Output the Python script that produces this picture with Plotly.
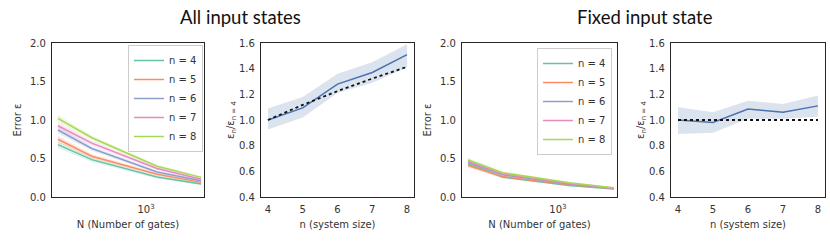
import plotly.graph_objects as go

# ---------------- data ----------------
N_gates = [166, 331, 1250, 3070]
n_labels = ["n = 4", "n = 5", "n = 6", "n = 7", "n = 8"]
colors = ["#66c2a5", "#fc8d62", "#8da0cb", "#e78ac3", "#a6d854"]

# All input states: error vs N for each n
err_all = [
    [0.68, 0.485, 0.26, 0.17],
    [0.75, 0.53, 0.295, 0.19],
    [0.87, 0.63, 0.325, 0.21],
    [0.925, 0.70, 0.37, 0.23],
    [1.02, 0.77, 0.40, 0.255],
]
err_all_sd = [
    [0.045, 0.03, 0.02, 0.015],
    [0.045, 0.03, 0.02, 0.015],
    [0.045, 0.03, 0.02, 0.015],
    [0.045, 0.03, 0.02, 0.015],
    [0.045, 0.03, 0.02, 0.015],
]

# Fixed input state: error vs N for each n
err_fix = [
    [0.43, 0.26, 0.15, 0.105],
    [0.41, 0.265, 0.16, 0.11],
    [0.45, 0.29, 0.17, 0.11],
    [0.46, 0.30, 0.175, 0.115],
    [0.48, 0.315, 0.185, 0.12],
]
err_fix_sd = [
    [0.03, 0.02, 0.012, 0.008],
    [0.03, 0.02, 0.012, 0.008],
    [0.03, 0.02, 0.012, 0.008],
    [0.03, 0.02, 0.012, 0.008],
    [0.03, 0.02, 0.012, 0.008],
]

n_sizes = [4, 5, 6, 7, 8]
ratio_all = [1.0, 1.094, 1.28, 1.37, 1.51]
ratio_all_lo = [0.925, 1.02, 1.21, 1.29, 1.41]
ratio_all_hi = [1.09, 1.18, 1.36, 1.45, 1.59]
ratio_fix = [1.0, 0.98, 1.085, 1.06, 1.11]
ratio_fix_lo = [0.89, 0.90, 1.01, 1.01, 1.025]
ratio_fix_hi = [1.10, 1.06, 1.15, 1.125, 1.19]
ref_all = [1.0, 1.118, 1.225, 1.323, 1.414]
ref_fix = [1.0, 1.0, 1.0, 1.0, 1.0]

titles = ["All input states", "Fixed input state"]

# ---------------- figure ----------------
W, H = 830, 247
fig = go.Figure()

def rgba(hexc, a):
    h = hexc.lstrip("#")
    r, g, b = int(h[0:2], 16), int(h[2:4], 16), int(h[4:6], 16)
    return f"rgba({r},{g},{b},{a})"

def add_err_panel(xa, ya, vals, sds, legend):
    for i, (v, s) in enumerate(zip(vals, sds)):
        up = [a + b for a, b in zip(v, s)]
        lo = [a - b for a, b in zip(v, s)]
        fig.add_trace(go.Scatter(
            x=N_gates + N_gates[::-1], y=up + lo[::-1], fill="toself", mode="lines",
            fillcolor=rgba(colors[i], 0.2), line=dict(width=0),
            hoverinfo="skip", showlegend=False, xaxis=xa, yaxis=ya))
    for i, v in enumerate(vals):
        fig.add_trace(go.Scatter(
            x=N_gates, y=v, mode="lines", name=n_labels[i],
            line=dict(color=colors[i], width=1.5),
            xaxis=xa, yaxis=ya, legend=legend))

def add_ratio_panel(xa, ya, vals, lo, hi, ref):
    fig.add_trace(go.Scatter(
        x=n_sizes + n_sizes[::-1], y=hi + lo[::-1], fill="toself", mode="lines",
        fillcolor="rgba(76,114,176,0.2)", line=dict(width=0),
        hoverinfo="skip", showlegend=False, xaxis=xa, yaxis=ya))
    fig.add_trace(go.Scatter(
        x=n_sizes, y=vals, mode="lines", line=dict(color="#4c72b0", width=1.5),
        showlegend=False, xaxis=xa, yaxis=ya))
    fig.add_trace(go.Scatter(
        x=n_sizes, y=ref, mode="lines", line=dict(color="#111111", width=1.8, dash="dot"),
        showlegend=False, xaxis=xa, yaxis=ya))

add_err_panel("x", "y", err_all, err_all_sd, "legend")
add_ratio_panel("x2", "y2", ratio_all, ratio_all_lo, ratio_all_hi, ref_all)
add_err_panel("x3", "y3", err_fix, err_fix_sd, "legend2")
add_ratio_panel("x4", "y4", ratio_fix, ratio_fix_lo, ratio_fix_hi, ref_fix)

px = [(52, 204), (261, 414), (462, 617), (671, 825)]
ytop, ybot = 43, 197
ydom = [(H - ybot) / H, (H - ytop) / H]

tickfont = dict(family="DejaVu Sans", size=10, color="#333333")
titlefont = dict(family="DejaVu Sans", size=10, color="#333333")
common = dict(showline=True, linecolor="#262626", linewidth=1.2, mirror=True,
              showgrid=False, zeroline=False, tickfont=tickfont,
              ticks="outside", ticklen=3, tickcolor="rgba(0,0,0,0)",
              automargin=False)

layout = dict(width=W, height=H, margin=dict(l=0, r=0, t=0, b=0),
              plot_bgcolor="white", paper_bgcolor="white")
for k, (a, b) in enumerate(px):
    suf = "" if k == 0 else str(k + 1)
    xa = dict(common, domain=[a / W, b / W], anchor="y" + suf)
    ya = dict(common, domain=ydom, anchor="x" + suf)
    if k in (0, 2):
        xa.update(type="log", range=[2.168, 3.513], tickvals=[1000],
                  ticktext=["10<sup>3</sup>"],
                  title=dict(text="N (Number of gates)", font=titlefont, standoff=6))
        ya.update(range=[0, 2], tickvals=[0, 0.5, 1.0, 1.5, 2.0], tickformat=".1f",
                  title=dict(text="Error ε", font=titlefont, standoff=6))
    else:
        xa.update(range=[3.8, 8.2], tickvals=n_sizes,
                  title=dict(text="n (system size)", font=titlefont, standoff=6))
        ya.update(range=[0.4, 1.6], tickvals=[0.4, 0.6, 0.8, 1.0, 1.2, 1.4, 1.6],
                  tickformat=".1f",
                  title=dict(text="ε<sub>n</sub>/ε<sub>n = 4</sub>", font=titlefont, standoff=2))
    layout["xaxis" + suf] = xa
    layout["yaxis" + suf] = ya

legend_common = dict(bgcolor="rgba(255,255,255,0.8)", bordercolor="#cccccc", borderwidth=1,
                     font=dict(family="DejaVu Sans", size=10, color="#333333"),
                     xanchor="right", yanchor="top", itemwidth=30, tracegroupgap=0)
layout["legend"] = dict(legend_common, x=203 / W, y=(H - 45) / H)
layout["legend2"] = dict(legend_common, x=612 / W, y=(H - 48) / H)

layout["annotations"] = [
    dict(text=titles[0], x=240 / W, y=(H - 17) / H, xref="paper", yref="paper",
         showarrow=False, xanchor="center", yanchor="middle",
         font=dict(family="Lato", size=18.5, color="#111111")),
    dict(text=titles[1], x=645 / W, y=(H - 17) / H, xref="paper", yref="paper",
         showarrow=False, xanchor="center", yanchor="middle",
         font=dict(family="Lato", size=18.5, color="#111111")),
]
fig.update_layout(**layout)
fig.write_html("out.html", config={"displayModeBar": False},
               post_script="document.body.style.margin='0';document.body.style.overflow='hidden';")
